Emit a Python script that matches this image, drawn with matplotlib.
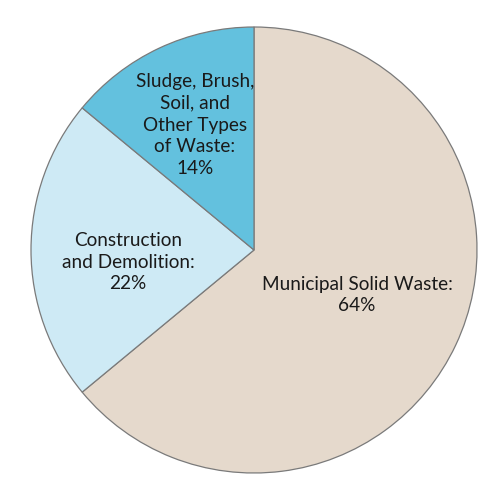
import matplotlib.pyplot as plt

labels = ["Municipal Solid Waste:\n64%",
          "Construction\nand Demolition:\n22%",
          "Sludge, Brush,\nSoil, and\nOther Types\nof Waste:\n14%"]
shares = [64, 22, 14]
colors = ["#e5d9cc", "#ceeaf5", "#63c1de"]
label_xy = [(357, 205), (128, 238), (195, 375)]

plt.rcParams['font.family'] = ['Lato', 'DejaVu Sans']

fig = plt.figure(figsize=(5, 5), dpi=100)
ax = fig.add_axes([0, 0, 1, 1])

ax.pie(shares, colors=colors, startangle=90, counterclock=False,
       center=(254, 250), radius=223, frame=True,
       wedgeprops=dict(edgecolor="#7a7a7a", linewidth=0.9))
ax.set_xlim(0, 500)
ax.set_ylim(0, 500)
ax.set_aspect('equal')
ax.axis('off')

for text, (x, y) in zip(labels, label_xy):
    ax.text(x, y, text, ha='center', va='center', fontsize=13.7,
            color='#1a1a1a', linespacing=1.35)

fig.savefig("out.png", dpi=100, facecolor='white')
